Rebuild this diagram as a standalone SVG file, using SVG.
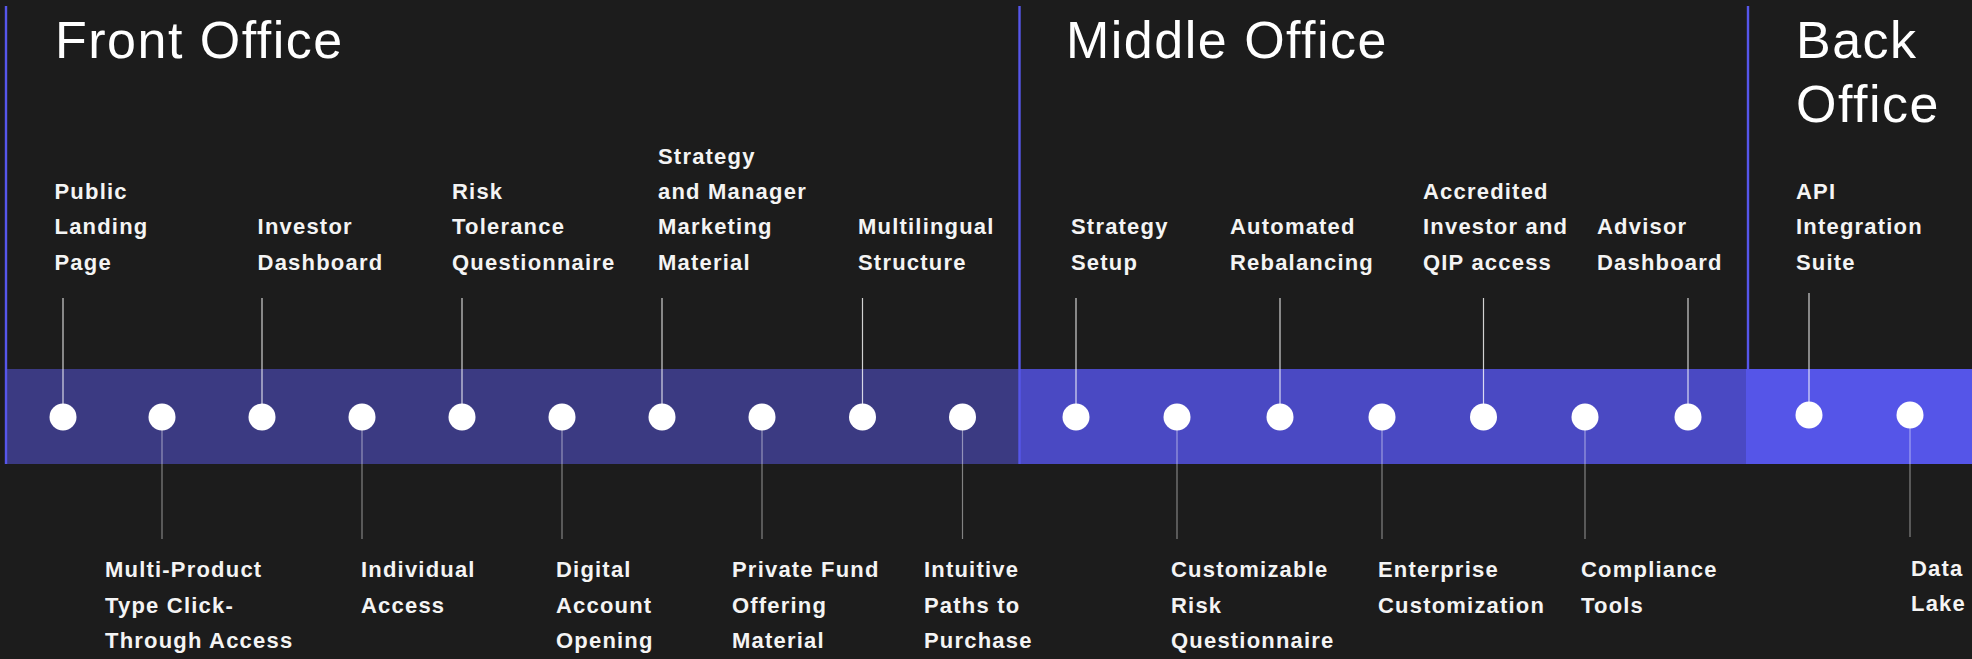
<svg xmlns="http://www.w3.org/2000/svg" width="1972" height="659" viewBox="0 0 1972 659">
<style>
.title{font-family:"Liberation Sans",Arial,sans-serif;font-size:52px;fill:#ffffff;letter-spacing:1.5px}
.lbl{font-family:"Liberation Sans",Arial,sans-serif;font-size:22px;font-weight:bold;fill:#f4f4f4;letter-spacing:1.2px}
.dot{fill:#ffffff}
.up{stroke:#ffffff;stroke-opacity:0.8;stroke-width:1.2}
.down{stroke:#ffffff;stroke-opacity:0.45;stroke-width:1.2}
.div{stroke:#5656ea;stroke-width:2.4}
</style>
<rect x="0" y="0" width="1972" height="659" fill="#1c1c1c"/>
<g id="bands">
<rect x="6" y="369" width="1013" height="95" fill="#3b3a82"/>
<rect x="1019" y="369" width="727" height="95" fill="#4a49c3"/>
<rect x="1746" y="369" width="226" height="95" fill="#5555e8"/>
</g>
<g id="dividers">
<line class="div" x1="6" y1="6" x2="6" y2="464"/>
<line class="div" x1="1019.5" y1="6" x2="1019.5" y2="464"/>
<line class="div" x1="1748" y1="6" x2="1748" y2="369"/>
</g>
<g id="headings">
<text class="title" x="55" y="58">Front Office</text>
<text class="title" x="1066" y="58">Middle Office</text>
<text class="title" x="1796" y="58">Back</text>
<text class="title" x="1796" y="122">Office</text>
</g>
<g id="connectors">
<line class="up" x1="63" y1="298" x2="63" y2="405"/>
<line class="down" x1="162" y1="429" x2="162" y2="539"/>
<line class="up" x1="262" y1="298" x2="262" y2="405"/>
<line class="down" x1="362" y1="429" x2="362" y2="539"/>
<line class="up" x1="462" y1="298" x2="462" y2="405"/>
<line class="down" x1="562" y1="429" x2="562" y2="539"/>
<line class="up" x1="662" y1="298" x2="662" y2="405"/>
<line class="down" x1="762" y1="429" x2="762" y2="539"/>
<line class="up" x1="862.5" y1="298" x2="862.5" y2="405"/>
<line class="down" x1="962.5" y1="429" x2="962.5" y2="539"/>
<line class="up" x1="1076" y1="298" x2="1076" y2="405"/>
<line class="down" x1="1177" y1="429" x2="1177" y2="539"/>
<line class="up" x1="1280" y1="298" x2="1280" y2="405"/>
<line class="down" x1="1382" y1="429" x2="1382" y2="539"/>
<line class="up" x1="1483.5" y1="298" x2="1483.5" y2="405"/>
<line class="down" x1="1585" y1="429" x2="1585" y2="539"/>
<line class="up" x1="1688" y1="298" x2="1688" y2="405"/>
<line class="up" x1="1809" y1="293" x2="1809" y2="403"/>
<line class="down" x1="1910" y1="427" x2="1910" y2="537"/>
</g>
<g id="n1"><circle class="dot" cx="63" cy="417" r="13.5"/><text class="lbl" x="54.5" y="199">Public</text><text class="lbl" x="54.5" y="234.3">Landing</text><text class="lbl" x="54.5" y="269.6">Page</text></g>
<g id="n2"><circle class="dot" cx="162" cy="417" r="13.5"/><text class="lbl" x="105" y="577.3">Multi-Product</text><text class="lbl" x="105" y="612.6">Type Click-</text><text class="lbl" x="105" y="647.9">Through Access</text></g>
<g id="n3"><circle class="dot" cx="262" cy="417" r="13.5"/><text class="lbl" x="257.6" y="234.3">Investor</text><text class="lbl" x="257.6" y="269.6">Dashboard</text></g>
<g id="n4"><circle class="dot" cx="362" cy="417" r="13.5"/><text class="lbl" x="361" y="577.3">Individual</text><text class="lbl" x="361" y="612.6">Access</text></g>
<g id="n5"><circle class="dot" cx="462" cy="417" r="13.5"/><text class="lbl" x="452" y="199">Risk</text><text class="lbl" x="452" y="234.3">Tolerance</text><text class="lbl" x="452" y="269.6">Questionnaire</text></g>
<g id="n6"><circle class="dot" cx="562" cy="417" r="13.5"/><text class="lbl" x="556" y="577.3">Digital</text><text class="lbl" x="556" y="612.6">Account</text><text class="lbl" x="556" y="647.9">Opening</text></g>
<g id="n7"><circle class="dot" cx="662" cy="417" r="13.5"/><text class="lbl" x="658" y="163.7">Strategy</text><text class="lbl" x="658" y="199">and Manager</text><text class="lbl" x="658" y="234.3">Marketing</text><text class="lbl" x="658" y="269.6">Material</text></g>
<g id="n8"><circle class="dot" cx="762" cy="417" r="13.5"/><text class="lbl" x="732" y="577.3">Private Fund</text><text class="lbl" x="732" y="612.6">Offering</text><text class="lbl" x="732" y="647.9">Material</text></g>
<g id="n9"><circle class="dot" cx="862.5" cy="417" r="13.5"/><text class="lbl" x="858" y="234.3">Multilingual</text><text class="lbl" x="858" y="269.6">Structure</text></g>
<g id="n10"><circle class="dot" cx="962.5" cy="417" r="13.5"/><text class="lbl" x="924" y="577.3">Intuitive</text><text class="lbl" x="924" y="612.6">Paths to</text><text class="lbl" x="924" y="647.9">Purchase</text></g>
<g id="n11"><circle class="dot" cx="1076" cy="417" r="13.5"/><text class="lbl" x="1071" y="234.3">Strategy</text><text class="lbl" x="1071" y="269.6">Setup</text></g>
<g id="n12"><circle class="dot" cx="1177" cy="417" r="13.5"/><text class="lbl" x="1171" y="577.3">Customizable</text><text class="lbl" x="1171" y="612.6">Risk</text><text class="lbl" x="1171" y="647.9">Questionnaire</text></g>
<g id="n13"><circle class="dot" cx="1280" cy="417" r="13.5"/><text class="lbl" x="1230" y="234.3">Automated</text><text class="lbl" x="1230" y="269.6">Rebalancing</text></g>
<g id="n14"><circle class="dot" cx="1382" cy="417" r="13.5"/><text class="lbl" x="1378" y="577.3">Enterprise</text><text class="lbl" x="1378" y="612.6">Customization</text></g>
<g id="n15"><circle class="dot" cx="1483.5" cy="417" r="13.5"/><text class="lbl" x="1423" y="199">Accredited</text><text class="lbl" x="1423" y="234.3">Investor and</text><text class="lbl" x="1423" y="269.6">QIP access</text></g>
<g id="n16"><circle class="dot" cx="1585" cy="417" r="13.5"/><text class="lbl" x="1581" y="577.3">Compliance</text><text class="lbl" x="1581" y="612.6">Tools</text></g>
<g id="n17"><circle class="dot" cx="1688" cy="417" r="13.5"/><text class="lbl" x="1597" y="234.3">Advisor</text><text class="lbl" x="1597" y="269.6">Dashboard</text></g>
<g id="n18"><circle class="dot" cx="1809" cy="415" r="13.5"/><text class="lbl" x="1796" y="199">API</text><text class="lbl" x="1796" y="234.3">Integration</text><text class="lbl" x="1796" y="269.6">Suite</text></g>
<g id="n19"><circle class="dot" cx="1910" cy="415" r="13.5"/><text class="lbl" x="1911" y="576">Data</text><text class="lbl" x="1911" y="611">Lake</text></g>
</svg>
